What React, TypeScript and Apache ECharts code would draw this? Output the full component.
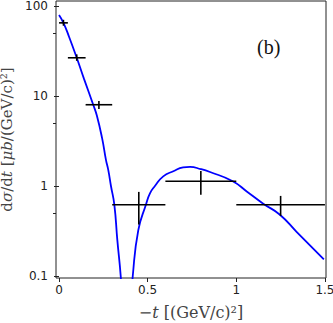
import React, { useEffect, useRef } from "react";
import * as echarts from "echarts";

// Model curve (-t in (GeV/c)^2, dσ/dt in μb/(GeV/c)^2)
const curveT = [0.0, 0.025, 0.056, 0.1, 0.141, 0.193, 0.213, 0.243, 0.265, 0.278, 0.293, 0.312, 0.329, 0.348, 0.362, 0.374, 0.383, 0.393, 0.405, 0.416, 0.447, 0.491, 0.513, 0.541, 0.588, 0.645, 0.7, 0.739, 0.8, 0.852, 0.98, 1.059, 1.152, 1.246, 1.34, 1.494];
const curveV = [79.4, 65, 45.9, 26.6, 15.5, 8.0, 6.1, 3.4, 1.94, 1.5, 1.0, 0.62, 0.25, 0.1, 0.035, 0.006, 0.0004, 0.008, 0.045, 0.1, 0.322, 0.627, 0.83, 1.0, 1.28, 1.46, 1.61, 1.63, 1.54, 1.43, 1.13, 0.87, 0.636, 0.48, 0.31, 0.153];

// Data points with error bars
const pointT = [0.025, 0.1, 0.225, 0.45, 0.8, 1.25];
const pointV = [65, 26.6, 8.0, 0.62, 1.13, 0.62];
const pointTLow = [0.0, 0.05, 0.15, 0.3, 0.6, 1.0];
const pointTHigh = [0.05, 0.15, 0.3, 0.6, 1.0, 1.5];
const pointVLow = [60.4, 24.6, 7.15, 0.373, 0.8, 0.465];
const pointVHigh = [70.3, 29.0, 8.78, 0.86, 1.47, 0.776];

// Axis ticks
const xTicks = [0, 0.5, 1, 1.5];
const yTicks = [0.1, 1, 10, 100];
const yMinorTicks = [0.5, 5, 50];

const X_MIN = -0.017;
const X_MAX = 1.506;
const Y_MIN = 0.095;
const Y_MAX = 113.7;

const fmt = (v: number) => String(+Number(v).toPrecision(4));

export default function App() {
  const ref = useRef<HTMLDivElement>(null);

  useEffect(() => {
    if (!ref.current) return;
    const chart = echarts.init(ref.current, undefined, { renderer: "svg" });

    const xRich = {
      n: { fontFamily: "DejaVu Serif", fontSize: 16, color: "#444" },
      i: { fontFamily: "DejaVu Serif", fontSize: 16, fontStyle: "italic", color: "#444" },
    };
    const yRich = {
      n: { fontFamily: "DejaVu Serif", fontSize: 15, color: "#444" },
      i: { fontFamily: "DejaVu Serif", fontSize: 15, fontStyle: "italic", color: "#444" },
    };

    const option: any = {
      animation: false,
      grid: {
        left: 56,
        top: 1,
        right: 7,
        bottom: 45,
        containLabel: false,
        outerBoundsMode: "none",
        show: true,
        borderColor: "#222",
        borderWidth: 1,
        backgroundColor: "transparent",
      },
      xAxis: {
        type: "value",
        min: X_MIN,
        max: X_MAX,
        axisLine: { show: false },
        axisTick: { show: true, customValues: xTicks, length: 4, lineStyle: { color: "#222", width: 1 } },
        axisLabel: {
          customValues: xTicks,
          margin: 6,
          fontFamily: "DejaVu Sans",
          fontSize: 12,
          color: "#222",
          formatter: fmt,
        },
        splitLine: { show: false },
        name: "{n|−}{i|t}{n| [(GeV/c)²]}",
        nameLocation: "middle",
        nameGap: 26,
        nameTextStyle: { fontFamily: "DejaVu Serif", fontSize: 16, color: "#444", rich: xRich },
      },
      yAxis: [
        {
          type: "log",
          logBase: 10,
          min: Y_MIN,
          max: Y_MAX,
          position: "left",
          axisLine: { show: false },
          axisTick: { show: true, customValues: yTicks, length: 5, lineStyle: { color: "#222", width: 1 } },
          axisLabel: {
            customValues: yTicks,
            margin: 8,
            fontFamily: "DejaVu Sans",
            fontSize: 12,
            color: "#222",
            formatter: fmt,
          },
          splitLine: { show: false },
          minorTick: { show: false },
          name: "d{i|σ}/d{i|t}{n| [}{i|μb}{n|/(GeV/c)²]}",
          nameLocation: "middle",
          nameGap: 31,
          nameRotate: 90,
          nameTextStyle: { fontFamily: "DejaVu Serif", fontSize: 15, color: "#444", rich: yRich },
        },
        {
          type: "log",
          logBase: 10,
          min: Y_MIN,
          max: Y_MAX,
          position: "left",
          offset: 0,
          axisLine: { show: false },
          axisTick: { show: true, customValues: yMinorTicks, length: 3, lineStyle: { color: "#222", width: 1 } },
          axisLabel: { show: false },
          splitLine: { show: false },
        },
      ],
      graphic: [
        {
          type: "text",
          left: 257,
          top: 37,
          style: {
            text: "(b)",
            fontFamily: "Liberation Serif",
            fontSize: 20,
            fill: "#111",
          },
        },
      ],
      series: [
        {
          type: "line",
          data: curveT.map((t, i) => [t, curveV[i]]),
          showSymbol: false,
          smooth: 0.5,
          clip: true,
          lineStyle: { color: "#0000ff", width: 1.8 },
          z: 2,
        },
        {
          type: "custom",
          data: pointT.map((t, i) => [t, pointV[i], pointTLow[i], pointTHigh[i], pointVLow[i], pointVHigh[i]]),
          encode: { x: 0, y: 1 },
          z: 3,
          renderItem: (params: any, api: any) => {
            const c = api.coord([api.value(0), api.value(1)]);
            const l = api.coord([api.value(2), api.value(1)]);
            const r = api.coord([api.value(3), api.value(1)]);
            const lo = api.coord([api.value(0), api.value(4)]);
            const hi = api.coord([api.value(0), api.value(5)]);
            const style = { stroke: "#000", lineWidth: 1.6 };
            return {
              type: "group",
              children: [
                { type: "line", shape: { x1: l[0], y1: c[1], x2: r[0], y2: c[1] }, style },
                { type: "line", shape: { x1: c[0], y1: lo[1], x2: c[0], y2: hi[1] }, style },
              ],
            };
          },
        },
      ],
    };

    chart.setOption(option);
    return () => chart.dispose();
  }, []);

  return (
    <div
      ref={ref}
      style={{ position: "fixed", left: 0, top: 0, width: 333, height: 323, background: "#fff" }}
    />
  );
}
